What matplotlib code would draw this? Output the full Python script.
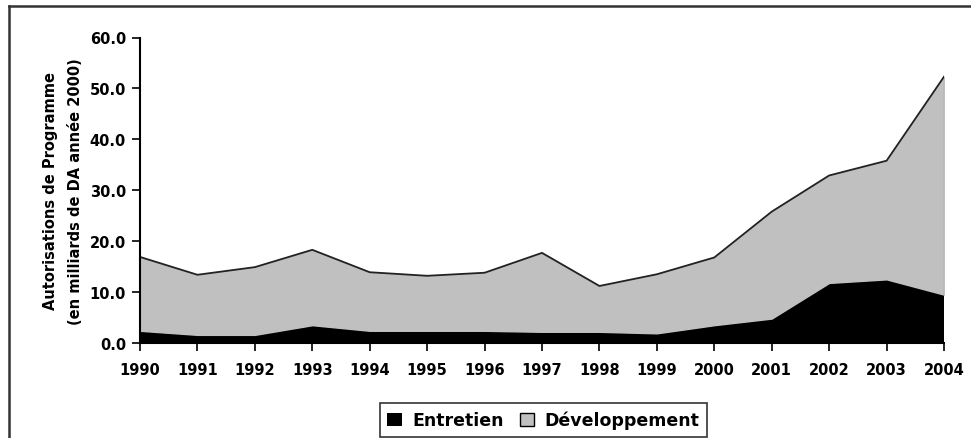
import matplotlib.pyplot as plt
import numpy as np

plt.rcParams['font.family'] = ['DejaVu Sans']
plt.rcParams['font.weight'] = 'bold'

# Données
annees = [1990, 1991, 1992, 1993, 1994, 1995, 1996, 1997,
          1998, 1999, 2000, 2001, 2002, 2003, 2004]
entretien = [2.4, 1.6, 1.6, 3.5, 2.4, 2.4, 2.4, 2.2,
             2.2, 1.9, 3.5, 4.8, 11.8, 12.5, 9.5]
total = [16.9, 13.4, 14.9, 18.3, 13.9, 13.2, 13.8, 17.7,
         11.2, 13.5, 16.8, 25.8, 32.9, 35.8, 52.3]
developpement = [t - e for t, e in zip(total, entretien)]
yticks = [0, 10, 20, 30, 40, 50, 60]

fig = plt.figure(figsize=(9.71, 4.39), dpi=100)

# Cadre extérieur (haut et gauche seulement visibles)
fig.add_artist(plt.Line2D([9 / 971, 1.0], [1 - 7 / 439, 1 - 7 / 439],
                          color='#333333', lw=1.8, transform=fig.transFigure))
fig.add_artist(plt.Line2D([9 / 971, 9 / 971], [0.0, 1 - 7 / 439],
                          color='#333333', lw=1.8, transform=fig.transFigure))

ax = fig.add_axes([140 / 971, 1 - 344 / 439, (944 - 140) / 971, (344 - 38.5) / 439])

polys = ax.stackplot(annees, entretien, developpement,
                     colors=['black', '#c0c0c0'], labels=['Entretien', 'Développement'])
polys[1].set_edgecolor('#c0c0c0')
ax.plot(annees, total, color='#222222', lw=1.3)
ax.plot([annees[-1], annees[-1]], [entretien[-1], total[-1]], color='#555555', lw=0.8)

ax.set_xlim(annees[0], annees[-1])
ax.set_ylim(0, 60)
ax.set_xticks(annees)
ax.set_xticklabels([str(a) for a in annees], fontsize=10.5, fontweight='bold')
ax.set_yticks(yticks)
ax.set_yticklabels(['%.1f' % v for v in yticks], fontsize=10.5, fontweight='bold')
ax.tick_params(axis='both', direction='out', length=6, width=1.2, color='black')
ax.tick_params(axis='x', pad=8)
ax.tick_params(axis='y', pad=4)

for s in ['top', 'right']:
    ax.spines[s].set_visible(False)
for s in ['left', 'bottom']:
    ax.spines[s].set_linewidth(1.5)

ax.set_ylabel('Autorisations de Programme\n(en milliards de DA année 2000)',
              fontsize=10.5, fontweight='bold', linespacing=1.8, labelpad=5)

leg = ax.legend(loc='center', bbox_to_anchor=(543.5 / 971, 1 - 421 / 439),
                bbox_transform=fig.transFigure, ncol=2, frameon=True,
                fancybox=False, edgecolor='black',
                prop={'weight': 'bold', 'size': 12.5},
                handlelength=0.85, handleheight=0.8, handletextpad=0.6,
                columnspacing=0.9, borderpad=0.45)
leg.get_frame().set_linewidth(1.2)
leg.legend_handles[1].set_edgecolor('black')

fig.savefig('out.png', dpi=100)
